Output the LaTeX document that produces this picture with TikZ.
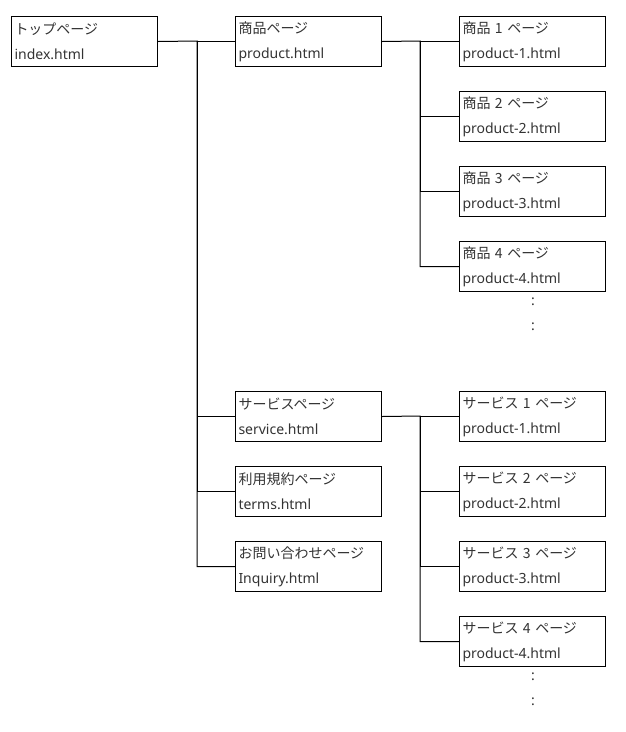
\documentclass[tikz,border=0pt]{standalone}
\usepackage{fontspec}
\setmainfont{Noto Sans}
\newfontfamily\jpfont{Noto Sans CJK JP}

\begin{document}
\begin{tikzpicture}[
  x=1pt, y=-1pt,
  page/.style={draw, line width=1pt, anchor=north west, minimum width=146pt,
    minimum height=50pt, inner xsep=3pt, text width=140pt, align=left,
    font=\fontsize{14}{25}\selectfont, text=black!80},
  wire/.style={draw, line width=1pt},
  more/.style={font=\fontsize{14}{14}\selectfont, text=black!80}
]
\useasboundingbox (0,0) rectangle (626,732);

% top page
\node[page] (top) at (11,16) {{\jpfont トップページ}\\index.html};

% second level
\node[page] (product) at (235,16)  {{\jpfont 商品ページ}\\product.html};
\node[page] (service) at (235,391) {{\jpfont サービスページ}\\service.html};
\node[page] (terms)   at (235,466) {{\jpfont 利用規約ページ}\\terms.html};
\node[page] (inquiry) at (235,541) {{\jpfont お問い合わせページ}\\Inquiry.html};

% third level
\foreach \i in {1,...,4} {
  \node[page] (product\i) at (459,{16+75*(\i-1)})
    {{\jpfont 商品\hspace{4.5pt}\i\hspace{4.5pt}ページ}\\product-\i.html};
  \node[page] (service\i) at (459,{391+75*(\i-1)})
    {{\jpfont サービス\hspace{4.5pt}\i\hspace{4.5pt}ページ}\\product-\i.html};
}

% dots
\node[more] (pdots1) at (533,302) {:};
\node[more] (pdots2) at (533,327) {:};
\node[more] (sdots1) at (533,677) {:};
\node[more] (sdots2) at (533,702) {:};

% connectors
\coordinate (fork1) at (197,41);
\coordinate (fork2) at (420,41);
\coordinate (fork3) at (420,416);
\draw[wire] (top.east) -- (fork1) |- (inquiry.west);
\foreach \n in {product,service,terms}
  \draw[wire] (fork1) |- (\n.west);
\draw[wire] (product.east) -- (fork2) |- (product4.west);
\draw[wire] (service.east) -- (fork3) |- (service4.west);
\foreach \i in {1,2,3} {
  \draw[wire] (fork2) |- (product\i.west);
  \draw[wire] (fork3) |- (service\i.west);
}
\end{tikzpicture}
\end{document}
